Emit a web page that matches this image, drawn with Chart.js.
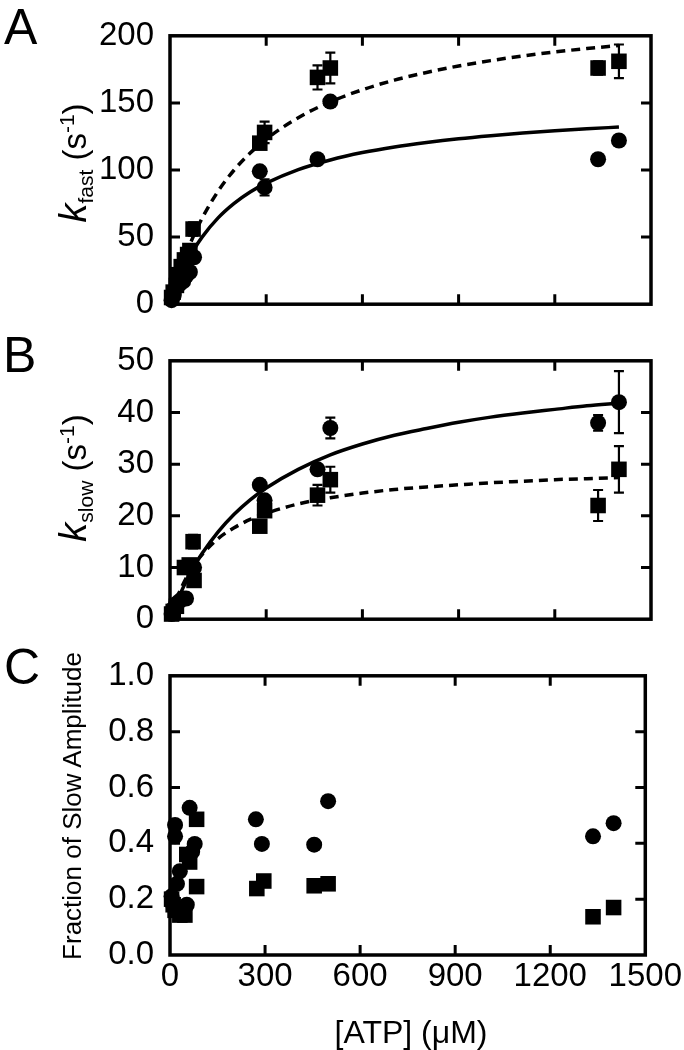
<!DOCTYPE html>
<html><head><meta charset="utf-8">
<script src="https://cdn.jsdelivr.net/npm/chart.js@4/dist/chart.umd.min.js"></script>
<style>
html,body{margin:0;padding:0;background:#fff;}
#wrap{position:relative;width:684px;height:1050px;overflow:hidden;font-family:"Liberation Sans",Arial,sans-serif;color:#000;background:#fff;}
.cv{position:absolute;left:0;}
.lbl{position:absolute;font-size:50px;line-height:1;}
.ytitle{position:absolute;white-space:nowrap;transform:translate(-50%,-50%) rotate(-90deg);line-height:1;}
.ytitle i{font-size:38px;}
.ytitle sub,.ytitle sup{font-size:21px;}
</style></head>
<body><div id="wrap">
<canvas id="cA" class="cv" style="top:0px" width="684" height="340"></canvas>
<canvas id="cB" class="cv" style="top:325px" width="684" height="330"></canvas>
<canvas id="cC" class="cv" style="top:640px" width="684" height="410"></canvas>
<div class="lbl" style="left:4px;top:2px">A</div>
<div class="lbl" style="left:3px;top:330px">B</div>
<div class="lbl" style="left:4px;top:642px">C</div>
<div class="ytitle" style="left:75px;top:163px;font-size:33px"><i>k</i><sub>fast</sub> (s<sup>-1</sup>)</div>
<div class="ytitle" style="left:75px;top:478px;font-size:33px"><i>k</i><sub>slow</sub> (s<sup>-1</sup>)</div>
<div class="ytitle" style="left:72px;top:806px;font-size:26px">Fraction of Slow Amplitude</div>
<div style="position:absolute;left:411px;top:1032px;transform:translate(-50%,-50%);font-size:32px;white-space:nowrap;line-height:1">[ATP] (μM)</div>
</div>
<script>
// ---- tick values / labels ----
const xTicks = [0, 300, 600, 900, 1200, 1500];
const xTickLabels = ['0', '300', '600', '900', '1200', '1500'];
const yTicksA = [0, 50, 100, 150, 200];
const yTickLabelsA = ['0', '50', '100', '150', '200'];
const yTicksB = [0, 10, 20, 30, 40, 50];
const yTickLabelsB = ['0', '10', '20', '30', '40', '50'];
const yTicksC = [0, 0.2, 0.4, 0.6, 0.8, 1.0];
const yTickLabelsC = ['0.0', '0.2', '0.4', '0.6', '0.8', '1.0'];

// ---- Panel A: k_fast ----
const xA_sq = [5, 10, 20, 25, 35, 45, 55, 62, 72, 280, 295, 460, 500, 1335, 1400];
const yA_sq = [5, 9, 14, 22, 28, 33, 37, 40, 56, 120, 128, 169, 176, 176, 181];
const eA_sq = [0, 0, 0, 0, 0, 0, 0, 0, 5, 0, 8, 9, 11.5, 5, 12.5];
const xA_ci = [5, 12, 22, 30, 41, 50, 62, 75, 280, 295, 460, 500, 1335, 1400];
const yA_ci = [3, 7, 13, 15, 17, 21, 24, 35, 99, 87, 108, 151, 108, 122];
const eA_ci = [0, 0, 0, 0, 0, 0, 0, 0, 0, 6, 0, 0, 0, 0];
const xFit = [5, 10, 25, 50, 75, 100, 150, 200, 250, 300, 400, 500, 600, 700, 800, 900, 1000, 1100, 1200, 1300, 1400];
const yA_solid = [3.6, 7.1, 16.6, 30, 40.9, 50, 64.3, 75.1, 83.6, 90.2, 100.3, 107.5, 113, 117.2, 120.5, 123.3, 125.6, 127.6, 129.2, 130.7, 132];
const yA_dash = [4.4, 8.6, 20.3, 37.3, 51.7, 64, 84.2, 100, 112.6, 123, 139, 150.8, 159.8, 167, 172.7, 177.5, 181.5, 185, 188, 190.5, 192.8];

// ---- Panel B: k_slow ----
const xB_ci = [5, 10, 20, 30, 40, 50, 62, 75, 280, 295, 460, 500, 1335, 1400];
const yB_ci = [1, 2, 3, 3.5, 4, 4, 10, 10, 26, 23, 29, 37, 38, 42];
const eB_ci = [0, 0, 0, 0, 0, 0, 0, 0, 0, 0, 0, 2, 1.5, 6];
const xB_sq = [5, 10, 20, 45, 60, 72, 75, 280, 295, 460, 500, 1335, 1400];
const yB_sq = [1, 1.5, 2.5, 10, 10.5, 15, 7.5, 18, 21, 24, 27, 22, 29];
const eB_sq = [0, 0, 0, 0, 0, 1.3, 0, 0, 0, 2, 2.5, 3, 4.5];
const yB_solid = [0.8, 1.6, 3.9, 7.3, 10.2, 12.7, 16.9, 20.3, 23.1, 25.4, 29, 31.8, 33.9, 35.6, 36.9, 38.1, 39.1, 39.9, 40.6, 41.3, 41.8];
const yB_dash = [1, 2, 4.6, 7.9, 10.5, 12.5, 15.6, 17.7, 19.3, 20.5, 22.3, 23.5, 24.4, 25.1, 25.6, 26, 26.4, 26.7, 27, 27.2, 27.4];

// ---- Panel C: fraction of slow amplitude ----
const xC_ci = [5, 10, 16, 16, 22, 31, 53, 62, 70, 78, 271, 290, 455, 499, 1335, 1400];
const yC_ci = [0.21, 0.18, 0.466, 0.425, 0.255, 0.30, 0.18, 0.527, 0.37, 0.398, 0.486, 0.398, 0.395, 0.551, 0.425, 0.472];
const xC_sq = [5, 10, 16, 31, 47, 53, 62, 84, 84, 274, 296, 455, 499, 1335, 1400];
const yC_sq = [0.2, 0.18, 0.16, 0.143, 0.143, 0.36, 0.333, 0.486, 0.245, 0.238, 0.265, 0.248, 0.255, 0.137, 0.17];

// ---- helpers ----
const pts = (xs, ys) => xs.map((x, i) => ({x: x, y: ys[i]}));
const tickFont = {family: '"Liberation Sans Narrow", "Liberation Sans", Arial, sans-serif', size: 33};

const framePlugin = {
  id: 'frame',
  afterDatasetsDraw(chart, args, opts) {
    const ctx = chart.ctx;
    const {left, right, top, bottom} = chart.chartArea;
    const xs = chart.scales.x, ys = chart.scales.y;
    ctx.save();
    ctx.strokeStyle = '#000';
    ctx.lineCap = 'butt';
    chart.data.datasets.forEach(ds => {
      if (!ds.errors) return;
      ctx.lineWidth = 2.2;
      ds.data.forEach((p, i) => {
        const e = ds.errors[i];
        if (!e) return;
        const px = xs.getPixelForValue(p.x);
        const y1 = ys.getPixelForValue(p.y + e), y2 = ys.getPixelForValue(p.y - e);
        ctx.beginPath();
        ctx.moveTo(px, y1); ctx.lineTo(px, y2);
        ctx.moveTo(px - 5, y1); ctx.lineTo(px + 5, y1);
        ctx.moveTo(px - 5, y2); ctx.lineTo(px + 5, y2);
        ctx.stroke();
      });
    });
    ctx.lineWidth = 3.5;
    ctx.strokeRect(left, top, right - left, bottom - top);
    ctx.lineWidth = 3;
    const tl = 10;
    ctx.beginPath();
    xTicks.forEach(v => {
      if (v <= xs.min || v >= xs.max) return;
      const px = xs.getPixelForValue(v);
      ctx.moveTo(px, bottom); ctx.lineTo(px, bottom - tl);
      ctx.moveTo(px, top); ctx.lineTo(px, top + tl);
    });
    (opts.yTicks || []).forEach(v => {
      if (v <= ys.min || v >= ys.max) return;
      const py = ys.getPixelForValue(v);
      ctx.moveTo(left, py); ctx.lineTo(left + tl, py);
      ctx.moveTo(right, py); ctx.lineTo(right - tl, py);
    });
    ctx.stroke();
    ctx.restore();
  }
};

function markerSet(data, errors, style) {
  return {
    type: 'scatter', data: data, errors: errors,
    pointStyle: style, pointRadius: style === 'rect' ? 11 : 8,
    pointBackgroundColor: '#000', pointBorderWidth: 0, borderWidth: 0,
    backgroundColor: '#000', showLine: false, clip: false
  };
}
function lineSet(data, dashed) {
  return {
    type: 'line', data: data, borderColor: '#000', borderWidth: 3.5,
    borderDash: dashed ? [9, 6] : [], pointRadius: 0, fill: false,
    cubicInterpolationMode: 'monotone', showLine: true, clip: false
  };
}

function makeChart(id, datasets, yMin, yMax, yTicks, yLabels, pad, showX) {
  const xScale = {
    type: 'linear', min: 0, max: 1500, display: showX,
    afterBuildTicks: s => { s.ticks = xTicks.map(v => ({value: v})); },
    ticks: {font: tickFont, color: '#000', padding: 2, maxRotation: 0, autoSkip: false,
            callback: (v, i) => xTickLabels[i]},
    grid: {display: false, drawTicks: false}, border: {display: false}
  };
  if (showX) xScale.afterFit = s => { s.height = 95; };
  return new Chart(document.getElementById(id), {
    data: {datasets: datasets},
    plugins: [framePlugin],
    options: {
      responsive: false, animation: false,
      layout: {padding: pad},
      plugins: {legend: {display: false}, tooltip: {enabled: false}, frame: {yTicks: yTicks}},
      scales: {
        x: xScale,
        y: {
          type: 'linear', min: yMin, max: yMax,
          afterBuildTicks: s => { s.ticks = yTicks.map(v => ({value: v})); },
          ticks: {font: tickFont, color: '#000', padding: 16, autoSkip: false,
                  callback: (v, i) => yLabels[i]},
          grid: {display: false, drawTicks: false}, border: {display: false},
          afterFit: s => { s.width = 170; }
        }
      }
    }
  });
}

makeChart('cA', [
  markerSet(pts(xA_sq, yA_sq), eA_sq, 'rect'),
  markerSet(pts(xA_ci, yA_ci), eA_ci, 'circle'),
  lineSet(pts(xFit, yA_solid), false),
  lineSet(pts(xFit, yA_dash), true)
], 0, 200, yTicksA, yTickLabelsA, {left: 0, right: 33, top: 24, bottom: 17}, false);

makeChart('cB', [
  markerSet(pts(xB_sq, yB_sq), eB_sq, 'rect'),
  markerSet(pts(xB_ci, yB_ci), eB_ci, 'circle'),
  lineSet(pts(xFit, yB_solid), false),
  lineSet(pts(xFit, yB_dash), true)
], 0, 50, yTicksB, yTickLabelsB, {left: 0, right: 33, top: 17, bottom: 19}, false);

makeChart('cC', [
  markerSet(pts(xC_sq, yC_sq), null, 'rect'),
  markerSet(pts(xC_ci, yC_ci), null, 'circle')
], 0, 1, yTicksC, yTickLabelsC, {left: 0, right: 33, top: 21, bottom: 0}, true);
</script>
</body></html>
